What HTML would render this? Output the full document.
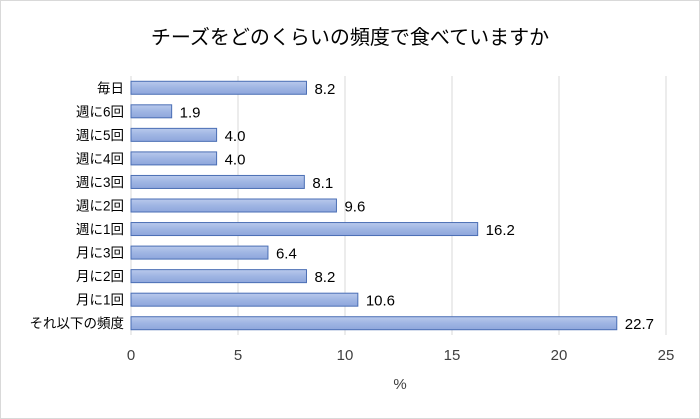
<!DOCTYPE html>
<html><head><meta charset="utf-8"><style>
body{margin:0;background:#fff}
svg{display:block;font-family:"Liberation Sans","Noto Sans CJK JP",sans-serif}
</style></head><body>
<svg id="c" width="700" height="419" viewBox="0 0 700 419">
<defs><linearGradient id="g" x1="0" y1="0" x2="0" y2="1"><stop offset="0" stop-color="#b9c9ec"/><stop offset="0.5" stop-color="#9fb5e3"/><stop offset="1" stop-color="#8ea6dc"/></linearGradient></defs>
<rect x="0.5" y="0.5" width="699" height="418" fill="#fff" stroke="#d9d9d9"/>
<text x="350" y="44" text-anchor="middle" font-size="20" fill="#000">チーズをどのくらいの頻度で食べていますか</text>
<g id="grid"></g><g id="bars"></g><g id="labels"></g>
<text x="400" y="389" text-anchor="middle" font-size="15" fill="#404040">%</text>
</svg>
<script>
const categories=["毎日","週に6回","週に5回","週に4回","週に3回","週に2回","週に1回","月に3回","月に2回","月に1回","それ以下の頻度"];
const values=[8.2,1.9,4.0,4.0,8.1,9.6,16.2,6.4,8.2,10.6,22.7];
const ticks=[0,5,10,15,20,25];
const NS="http://www.w3.org/2000/svg";
const x0=131,x1=666,yTop=76,yBottom=335,maxV=25;
const xs=v=>x0+(x1-x0)*v/maxV;
const step=(yBottom-yTop)/categories.length;
function mk(t,a,p){const e=document.createElementNS(NS,t);for(const k in a)e.setAttribute(k,a[k]);p.appendChild(e);return e;}
const grid=document.getElementById('grid'),bars=document.getElementById('bars'),labels=document.getElementById('labels');
ticks.forEach(t=>{
const l=mk('line',{x1:xs(t),x2:xs(t),y1:yTop,y2:yBottom,stroke:'#d9d9d9'},grid);


const tx=mk('text',{x:xs(t),y:360,'text-anchor':'middle','font-size':15,fill:'#404040'},labels);
tx.textContent=t;


});
categories.forEach((c,i)=>{
const cy=yTop+step*(i+0.5);
const r=mk('rect',{x:x0,y:cy-6.5,width:xs(values[i])-x0,height:13,fill:'url(#g)',stroke:'#4a6eb4','stroke-width':1},bars);


const cl=mk('text',{x:124,y:cy+5,'text-anchor':'end','font-size':13.5,fill:'#000'},labels);
cl.textContent=c;


const vl=mk('text',{x:xs(values[i])+8,y:cy+6,'font-size':15,fill:'#000'},labels);
vl.textContent=values[i].toFixed(1);


});
</script>
</body></html>
